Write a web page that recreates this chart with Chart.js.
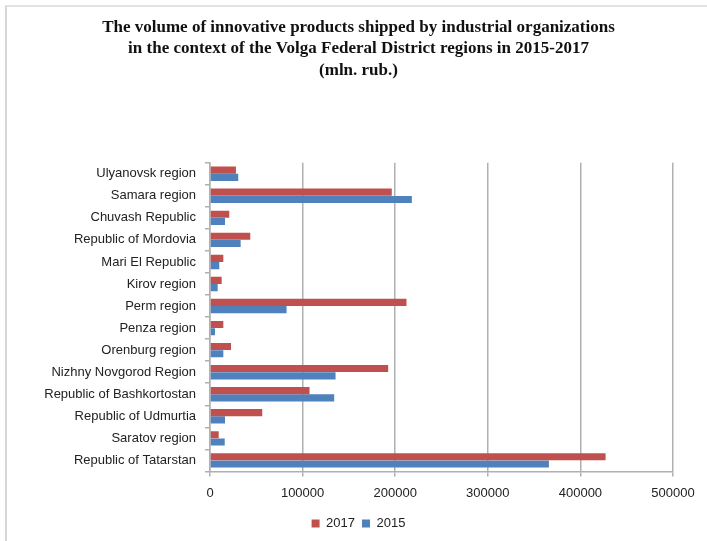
<!DOCTYPE html>
<html>
<head>
<meta charset="utf-8">
<script src="https://cdn.jsdelivr.net/npm/chart.js@4/dist/chart.umd.min.js"></script>
<style>
  html, body { margin: 0; padding: 0; background: #fff; overflow: hidden; }
  #wrap { position: relative; width: 707px; height: 541px; }
  #frame { position: absolute; left: 5px; top: 5px; width: 720px; height: 560px;
           border-left: 2px solid #d6d6d6; border-top: 2px solid #e2e2e2; pointer-events: none; }
</style>
</head>
<body>
<div id="wrap">
  <canvas id="chart" width="707" height="541"></canvas>
  <div id="frame"></div>
</div>
<script>
const regions = [
    'Ulyanovsk region',
    'Samara region',
    'Chuvash Republic',
    'Republic of Mordovia',
    'Mari El Republic',
    'Kirov region',
    'Perm region',
    'Penza region',
    'Orenburg region',
    'Nizhny Novgorod Region',
    'Republic of Bashkortostan',
    'Republic of Udmurtia',
    'Saratov region',
    'Republic of Tatarstan'
];
const values2017 = [28000, 196300, 20800, 43500, 14400, 12600, 212200, 14400, 22700, 192400, 107500, 56400, 9400, 427200];
const values2015 = [30500, 218000, 16200, 33100, 10000, 8300, 82700, 5400, 14400, 135600, 134100, 16200, 15900, 366000];
const titleLines = [
    'The volume of innovative products shipped by industrial organizations',
    'in the context of the Volga Federal District regions in 2015-2017',
    '(mln. rub.)'
];

const sans = "'Liberation Sans', Arial, sans-serif";
const ctx = document.getElementById('chart');

const chart = new Chart(ctx, {
    type: 'bar',
    data: {
        labels: regions,
        datasets: [{
            label: '2017',
            data: values2017,
            backgroundColor: '#c0504d',
            categoryPercentage: 0.66,
            barPercentage: 0.98
        }, {
            label: '2015',
            data: values2015,
            backgroundColor: '#4f81bd',
            categoryPercentage: 0.66,
            barPercentage: 0.98
        }]
    },
    options: {
        indexAxis: 'y',
        responsive: false,
        animation: false,
        layout: { padding: { left: 44, right: 34, top: 0, bottom: 1 } },
        scales: {
            x: {
                min: 0,
                max: 500000,
                ticks: {
                    stepSize: 100000,
                    color: '#222',
                    font: { family: sans, size: 13 },
                    padding: 9,
                    callback: (v) => String(v)
                },
                grid: { color: '#b0b0b0', lineWidth: 1.5, tickLength: 5 },
                border: { color: '#b0b0b0', width: 1.5 }
            },
            y: {
                clip: false,
                afterFit(scale) { scale.width = 166; },
                ticks: { color: '#222', font: { family: sans, size: 13 }, padding: 9 },
                grid: { drawOnChartArea: false, offset: true, color: '#b0b0b0', lineWidth: 1.5, tickLength: 5 },
                border: { color: '#b0b0b0', width: 1.5 }
            }
        },
        plugins: {
            title: {
                display: true,
                text: titleLines,
                color: '#111',
                font: { family: "'Liberation Serif', 'Times New Roman', serif", size: 17, weight: 'bold', lineHeight: 1.25 },
                padding: { top: 17, bottom: 82 }
            },
            legend: {
                position: 'bottom',
                labels: { boxWidth: 8, boxHeight: 8, color: '#222', font: { family: sans, size: 13 }, padding: 7 }
            },
            tooltip: { enabled: false }
        }
    }
});
</script>
</body>
</html>
